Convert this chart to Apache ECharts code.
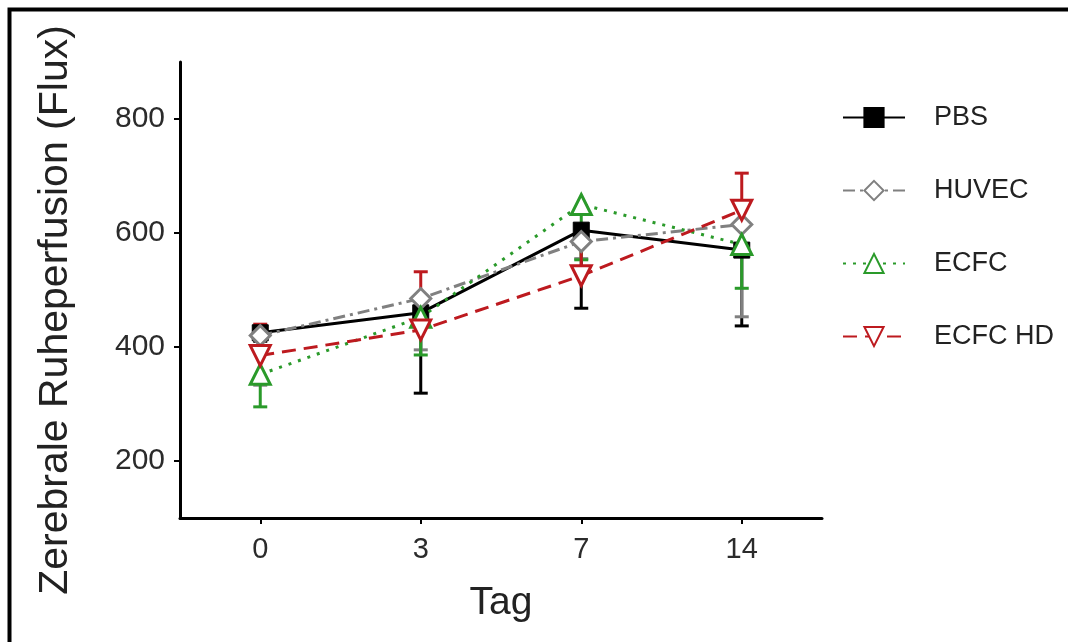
<!DOCTYPE html>
<html>
<head>
<meta charset="utf-8">
<script src="https://cdn.jsdelivr.net/npm/echarts@6/dist/echarts.min.js"></script>
<style>
html,body{margin:0;padding:0;background:#fff;}
#main{width:1068px;height:642px;}
</style>
</head>
<body>
<div id="main"></div>
<script>
// Categories (days)
const days = ['0', '3', '7', '14'];
const yTicks = [200, 400, 600, 800];

// Means
const pbs    = [425, 460, 605, 570];
const huvec  = [420, 485, 585, 615];
const ecfc   = [352, 452, 650, 580];
const ecfcHd = [385, 430, 525, 640];

// Error bar end points (one-sided bars)
const pbsErrEnd    = [410, 319, 468, 437];
const huvecErrEnd  = [333, 395, 555, 453];
const ecfcErrEnd   = [295, 386, 553, 503];
const ecfcHdErrEnd = [440, 532, 590, 705];

const COL = {
  pbs: '#000000',
  huvec: '#808080',
  ecfc: '#2a9a2a',
  hd: '#bd1a1f'
};
const FONT = 'Liberation Sans, Arial, Helvetica, sans-serif';

function errSeries(name, means, ends, color) {
  const data = means.map((m, i) => [i, m, ends[i]]);
  return {
    type: 'custom',
    name: name + ' err',
    z: 1,
    silent: true,
    data: data,
    renderItem: function (params, api) {
      const x = api.value(0);
      const p1 = api.coord([x, api.value(1)]);
      const p2 = api.coord([x, api.value(2)]);
      const hw = 7;
      return {
        type: 'group',
        children: [
          { type: 'line', shape: { x1: p1[0], y1: p1[1], x2: p2[0], y2: p2[1] },
            style: { stroke: color, lineWidth: 3 } },
          { type: 'line', shape: { x1: p2[0] - hw, y1: p2[1], x2: p2[0] + hw, y2: p2[1] },
            style: { stroke: color, lineWidth: 3 } }
        ]
      };
    }
  };
}

const chart = echarts.init(document.getElementById('main'));
chart.setOption({
  backgroundColor: '#fff',
  animation: false,
  graphic: [{
    type: 'rect',
    shape: { x: 9.5, y: 9.5, width: 1200, height: 800 },
    style: { fill: 'none', stroke: '#000', lineWidth: 4 },
    z: 100
  }],
  grid: { left: 180, top: 62, right: 246, bottom: 124 },
  legend: {
    orient: 'vertical',
    left: 837,
    top: 99,
    itemWidth: 62,
    itemHeight: 24,
    itemGap: 46,
    textStyle: { fontFamily: FONT, fontSize: 27, color: '#222', padding: [0, 0, 0, 24] },
    data: ['PBS', 'HUVEC', 'ECFC', 'ECFC HD']
  },
  xAxis: {
    type: 'category',
    data: days,
    boundaryGap: true,
    name: 'Tag',
    nameLocation: 'middle',
    nameGap: 66,
    nameTextStyle: { fontFamily: FONT, fontSize: 39, color: '#222' },
    axisLine: { lineStyle: { color: '#000', width: 3 } },
    axisTick: { show: true, alignWithLabel: true, length: 6, lineStyle: { color: '#000', width: 2 } },
    axisLabel: { fontFamily: FONT, fontSize: 29, color: '#2b2b2b', margin: 17 },
    splitLine: { show: false }
  },
  yAxis: {
    type: 'value',
    min: 100,
    max: 900,
    interval: 100,
    name: 'Zerebrale Ruheperfusion (Flux)',
    nameLocation: 'middle',
    nameGap: 104,
    nameTextStyle: { fontFamily: FONT, fontSize: 41, color: '#222', padding: [0, 40, 0, 0] },
    axisLine: { show: true, lineStyle: { color: '#000', width: 3 } },
    axisTick: { show: true, length: 6, lineStyle: { color: '#000', width: 2 },
      customValues: yTicks },
    axisLabel: {
      fontFamily: FONT, fontSize: 30, color: '#2b2b2b', margin: 15,
      customValues: yTicks
    },
    splitLine: { show: false }
  },
  series: [
    errSeries('PBS', pbs, pbsErrEnd, COL.pbs),
    errSeries('HUVEC', huvec, huvecErrEnd, COL.huvec),
    errSeries('ECFC', ecfc, ecfcErrEnd, COL.ecfc),
    errSeries('ECFC HD', ecfcHd, ecfcHdErrEnd, COL.hd),
    {
      name: 'PBS', type: 'line', data: pbs, z: 3,
      symbol: 'rect', symbolSize: 16,
      lineStyle: { color: COL.pbs, width: 3, type: 'solid' },
      itemStyle: { color: COL.pbs, borderColor: COL.pbs, borderWidth: 1 }
    },
    {
      name: 'HUVEC', type: 'line', data: huvec, z: 4,
      symbol: 'diamond', symbolSize: 20,
      lineStyle: { color: COL.huvec, width: 3, type: [12, 5, 3, 5] },
      itemStyle: { color: '#fff', borderColor: COL.huvec, borderWidth: 3 }
    },
    {
      name: 'ECFC', type: 'line', data: ecfc, z: 5,
      symbol: 'triangle', symbolSize: 20,
      lineStyle: { color: COL.ecfc, width: 3, type: [3, 7] },
      itemStyle: { color: '#fff', borderColor: COL.ecfc, borderWidth: 3 }
    },
    {
      name: 'ECFC HD', type: 'line', data: ecfcHd, z: 6,
      symbol: 'triangle', symbolRotate: 180, symbolSize: 20,
      lineStyle: { color: COL.hd, width: 3, type: [14, 8] },
      itemStyle: { color: '#fff', borderColor: COL.hd, borderWidth: 3 }
    }
  ]
});
</script>
</body>
</html>
